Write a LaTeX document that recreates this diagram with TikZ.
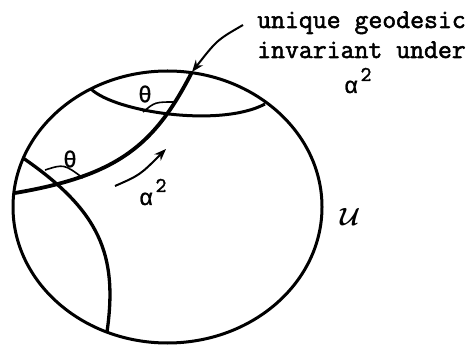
\documentclass[tikz,border=0pt]{standalone}
\usepackage{fontspec}
\newfontfamily\cour{Latin Modern Mono}[FakeBold=2]
\newfontfamily\grk{Liberation Mono}[FakeBold=1]
\usetikzlibrary{arrows.meta}
\begin{document}
\begin{tikzpicture}[x=1pt,y=-1pt,
  bound/.style={line width=3pt},
  geo/.style={line width=3pt},
  maingeo/.style={line width=3.8pt},
  anglearc/.style={line width=1.6pt},
  arr/.style={line width=2pt,-{Stealth[length=12pt,width=9pt]}},
  lbl/.style={font=\fontsize{27}{27}\selectfont\cour,inner sep=0pt},
  sup/.style={font=\fontsize{21}{21}\selectfont\cour,inner sep=0pt,anchor=base},
  grklbl/.style={font=\fontsize{23}{23}\selectfont\grk,inner sep=0pt}]
\useasboundingbox (0,0) rectangle (476,347);
% boundary
\draw[bound] (167.5,207) ellipse [x radius=154.5, y radius=136];
% geodesics
\coordinate (mA) at (192,72);
\coordinate (mB) at (15,193);
\draw[maingeo] (mA) .. controls (154.6,145.1) and (118.4,175.4) .. (mB);
\coordinate (tA) at (91,89);
\coordinate (tB) at (265,104);
\draw[geo] (tA) .. controls (115,112) and (220,128) .. (tB);
\coordinate (lA) at (23,158);
\coordinate (lB) at (107,332);
\draw[geo, line width=3.3pt] (lA) .. controls (100,211) and (118,255) .. (lB);
% angle arcs
\coordinate (a1s) at (143,112);
\coordinate (a1e) at (175,102);
\draw[anglearc] (a1s) .. controls (155,102) .. (a1e);
\coordinate (a2s) at (45,170);
\coordinate (a2e) at (83,178);
\draw[anglearc] (a2s) .. controls (64,164) .. (a2e);
\node[grklbl] (th1) at (145,94) {θ};
\node[grklbl] (th2) at (70,159) {θ};
% alpha^2 arrow
\coordinate (s1) at (115,186);
\coordinate (s2) at (166,149);
\draw[arr] (s1) .. controls (140,175) .. (s2);
\node[grklbl, anchor=base] (al1) at (146,205) {α};
\node[sup] (sq1) at (161,192) {2};
% top label
\node[lbl, anchor=base west] (t1) at (257,28) {unique geodesic};
\node[lbl, anchor=base west] (t2) at (257,58) {invariant under};
\node[grklbl, anchor=base] (al2) at (351,93) {α};
\node[sup] (sq2) at (366,81) {2};
\coordinate (p1) at (243,25);
\draw[arr] (p1) .. controls (217,40) .. (mA);
% U
\node[inner sep=0pt, font=\fontsize{38}{38}\selectfont\boldmath] (U) at (350,217) {$\mathcal{U}$};
\end{tikzpicture}
\end{document}
